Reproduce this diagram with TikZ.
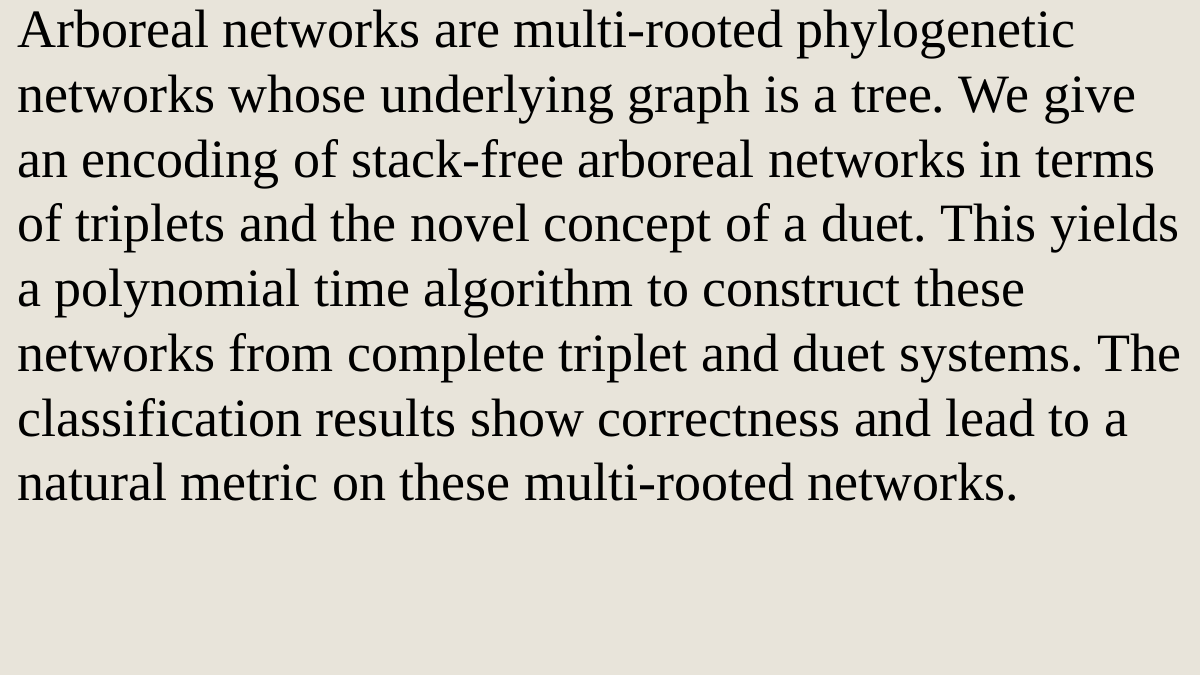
\documentclass[tikz,border=0pt]{standalone}
\usepackage{fontspec}
\setmainfont{Liberation Serif}
\definecolor{paper}{RGB}{232,228,218}
\tikzset{
  abstract/.style = {anchor=north west, inner sep=0pt, align=left,
                     font=\fontsize{54.2}{65}\selectfont}
}
\begin{document}
\frenchspacing
\begin{tikzpicture}[x=1bp, y=1bp]
  \fill[paper] (0,0) rectangle (1200,-675);
  \useasboundingbox (0,0) rectangle (1200,-675);
  \node[abstract] (txt) at (17,-10) {Arboreal networks are multi-rooted phylogenetic\\
    networks whose underlying graph is a tree. We give\\
    an encoding of stack-free arboreal networks in terms\\
    of triplets and the novel concept of a duet. This yields\\
    a polynomial time algorithm to construct these\\
    networks from complete triplet and duet systems. The\\
    classification results show correctness and lead to a\\
    natural metric on these multi-rooted networks.};
\end{tikzpicture}
\end{document}
